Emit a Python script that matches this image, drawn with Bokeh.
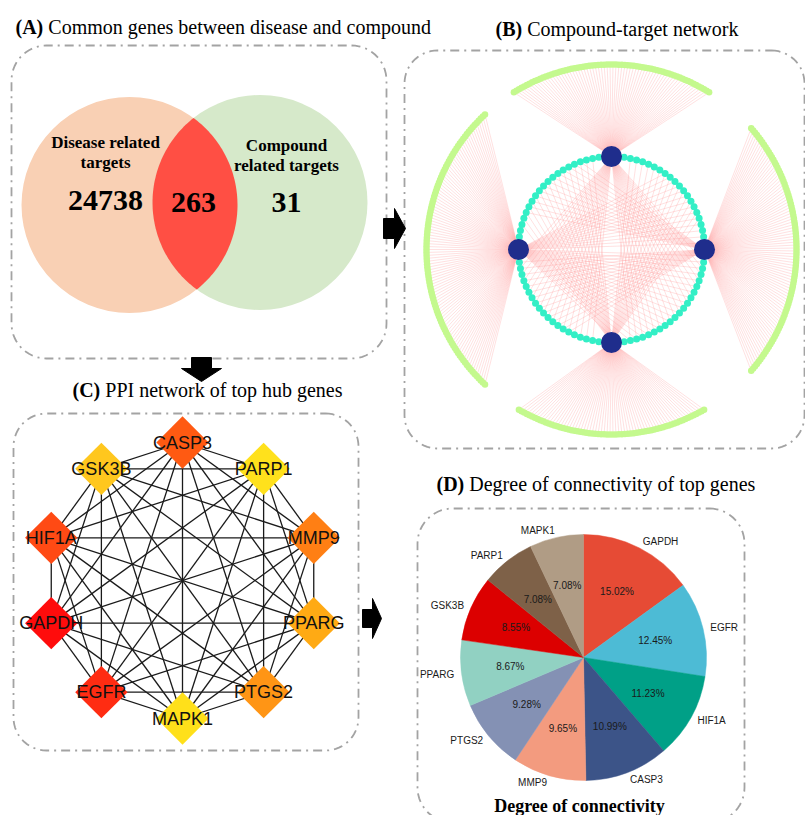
import numpy as np
from itertools import combinations
from bokeh.plotting import figure
from bokeh.models import Range1d
from bokeh.core.properties import value
from bokeh.embed import file_html
from bokeh.resources import INLINE

W, H = 805, 815

# ---------------- data ----------------
# (A) Venn
venn_set_labels = [["Disease related", "targets"], ["Compound", "related targets"]]
venn_counts = [24738, 263, 31]          # disease only, common, compound only

# (B) compound-target network
n_shared_slots = 92                      # slots on inner ring (4 used by compounds)
hub_slots = [23, 46, 69, 0]              # top, left, bottom, right compound
unique_counts = [70, 103, 66, 90]        # unique targets of each compound (outer arcs)
shared_links = [                         # ranges of inner-ring slots linked to each compound
    [(48, 66), (72, 90)],
    [(70, 91), (1, 14)],
    [(26, 42), (5, 20)],
    [(48, 62), (28, 40)],
]

# (C) PPI network of top hub genes (complete graph), clockwise from top
ppi_genes = ["CASP3", "PARP1", "MMP9", "PPARG", "PTGS2", "MAPK1", "EGFR", "GAPDH", "HIF1A", "GSK3B"]
ppi_colors = ["#FF5A12", "#FFE11C", "#FF7F14", "#FFAA14", "#FF9515", "#FFE01A",
              "#FF2C12", "#FF0C0C", "#FF4A14", "#FFC71E"]

# (D) degree of connectivity pie, clockwise from 12 o'clock
pie_genes = ["GAPDH", "EGFR", "HIF1A", "CASP3", "MMP9", "PTGS2", "PPARG", "GSK3B", "PARP1", "MAPK1"]
pie_pct = [15.02, 12.45, 11.23, 10.99, 9.65, 9.28, 8.67, 8.55, 7.08, 7.08]
pie_colors = ["#E64B35", "#4DBBD5", "#00A087", "#3C5488", "#F39B7F",
              "#8491B4", "#91D1C2", "#DC0000", "#7E6148", "#B09C85"]

titles = [("(A)", "Common genes between disease and compound"),
          ("(B)", "Compound-target network"),
          ("(C)", "PPI network of top hub genes"),
          ("(D)", "Degree of connectivity of top genes")]
pie_caption = "Degree of connectivity"

# ---------------- figure ----------------
p = figure(width=W, height=H, x_range=Range1d(0, W), y_range=Range1d(0, H),
           output_backend="svg", toolbar_location=None, min_border=0)
p.axis.visible = False
p.grid.visible = False
p.outline_line_color = None
p.background_fill_color = "white"
p.border_fill_color = "white"

SERIF = value("Liberation Serif")
SANS = value("Liberation Sans")


def Y(py):
    return H - py


def rrect(x0, y0, x1, y1, r, n=16):
    xs, ys = [], []
    corners = [(x1 - r, y0 + r, 90, 0), (x1 - r, y1 - r, 0, -90),
               (x0 + r, y1 - r, -90, -180), (x0 + r, y0 + r, 180, 90)]
    for cx, cy, a0, a1 in corners:
        for a in np.linspace(np.radians(a0), np.radians(a1), n):
            xs.append(cx + r * np.cos(a))
            ys.append(Y(cy) + r * np.sin(a))
    xs.append(xs[0]); ys.append(ys[0])
    return xs, ys


def box(x0, y0, x1, y1, r):
    xs, ys = rrect(x0, y0, x1, y1, r)
    p.line(xs, ys, line_color="#A3A3A3", line_width=1.8, line_dash="9 5 2 5")


def title(x, y, bold, rest, bold_w):
    p.text([x], [Y(y)], text=[bold], text_font=SERIF, text_font_style="bold",
           text_font_size="20px", text_align="left", text_baseline="middle", text_color="black")
    p.text([x + bold_w + 5], [Y(y)], text=[rest], text_font=SERIF,
           text_font_size="20px", text_align="left", text_baseline="middle", text_color="black")


def arrow_right(bx0, bx1, by0, by1, hy0, hy1, tip):
    xs = [bx0, bx1, bx1, tip, bx1, bx1, bx0]
    ys = [Y(by0), Y(by0), Y(hy0), Y((hy0 + hy1) / 2), Y(hy1), Y(by1), Y(by1)]
    p.patch(xs, ys, fill_color="black", line_color="black", line_width=1)


def arrow_down(bx0, bx1, by0, by1, hx0, hx1, tip):
    xs = [bx0, bx1, bx1, hx1, (hx0 + hx1) / 2, hx0, bx0]
    ys = [Y(by0), Y(by0), Y(by1), Y(by1), Y(tip), Y(by1), Y(by1)]
    p.patch(xs, ys, fill_color="black", line_color="black", line_width=1)


# ---------------- (A) Venn ----------------
title(15, 26, titles[0][0], titles[0][1], 27.8)
box(11, 45, 386, 358, 35)
c1 = (129.0, Y(204.5), 108.0)
c2 = (259.5, Y(202.0), 107.5)
p.circle([c1[0]], [c1[1]], radius=c1[2], fill_color="#F9D0B4", line_color=None)
p.circle([c2[0]], [c2[1]], radius=c2[2], fill_color="#D6E9CA", line_color=None)
# lens = intersection of both circles
d = np.hypot(c2[0] - c1[0], c2[1] - c1[1])
a = (c1[2] ** 2 - c2[2] ** 2 + d ** 2) / (2 * d)
h = np.sqrt(c1[2] ** 2 - a ** 2)
ux, uy = (c2[0] - c1[0]) / d, (c2[1] - c1[1]) / d
mx, my = c1[0] + a * ux, c1[1] + a * uy
pA = (mx - h * uy, my + h * ux)
pB = (mx + h * uy, my - h * ux)


def arc_pts(c, p_from, p_to, other):
    ang0 = np.arctan2(p_from[1] - c[1], p_from[0] - c[0])
    ang1 = np.arctan2(p_to[1] - c[1], p_to[0] - c[0])
    cands = []
    for direction in (1, -1):
        span = (ang1 - ang0) % (2 * np.pi) if direction == 1 else -((ang0 - ang1) % (2 * np.pi))
        t = np.linspace(ang0, ang0 + span, 80)
        cands.append((c[0] + c[2] * np.cos(t), c[1] + c[2] * np.sin(t)))
    return min(cands, key=lambda q: np.mean(np.hypot(q[0] - other[0], q[1] - other[1])))


xa, ya = arc_pts(c1, pA, pB, c2)
xb, yb = arc_pts(c2, pB, pA, c1)
p.patch(list(xa) + list(xb), list(ya) + list(yb), fill_color="#FF4F44", line_color=None)

for (cx, lines), cy0 in zip(zip([105, 286], venn_set_labels), [142, 145]):
    p.text([cx, cx], [Y(cy0), Y(cy0 + 20)], text=lines, text_font=SERIF, text_font_style="bold",
           text_font_size="17px", text_align="center", text_baseline="middle", text_color="black")
p.text([105, 193, 286], [Y(200), Y(202), Y(202)], text=[str(v) for v in venn_counts],
       text_font=SERIF, text_font_style="bold", text_font_size="30px",
       text_align="center", text_baseline="middle", text_color="black")

# ---------------- (B) network ----------------
title(495, 28, titles[1][0], titles[1][1], 26.7)
box(404, 50, 804, 448, 33)
bcx, bcy = 611.0, Y(249.0)
r_in, r_out = 93.0, 185.0
slot_ang = np.radians(np.arange(n_shared_slots) * 360.0 / n_shared_slots)
sx = bcx + r_in * np.cos(slot_ang)
sy = bcy + r_in * np.sin(slot_ang)
hub_x = [sx[s] for s in hub_slots]
hub_y = [sy[s] for s in hub_slots]

fan_xs, fan_ys, arc_x, arc_y = [], [], [], []
deg_per_target = 0.91
for k, s in enumerate(hub_slots):
    centre = np.degrees(slot_ang[s])
    span = unique_counts[k] * deg_per_target
    angs = np.radians(centre + np.linspace(-span / 2, span / 2, unique_counts[k]))
    ax = bcx + r_out * np.cos(angs)
    ay = bcy + r_out * np.sin(angs)
    arc_x += list(ax); arc_y += list(ay)
    for x_, y_ in zip(ax, ay):
        fan_xs.append([hub_x[k], x_]); fan_ys.append([hub_y[k], y_])
    for lo, hi in shared_links[k]:
        for t in range(lo, hi + 1):
            fan_xs.append([hub_x[k], sx[t]]); fan_ys.append([hub_y[k], sy[t]])

p.multi_line(fan_xs, fan_ys, line_color="#FF9C9C", line_alpha=0.5, line_width=0.6)
teal = [i for i in range(n_shared_slots) if i not in hub_slots]
p.scatter(sx[teal], sy[teal], size=7, fill_color="#33EFC6", line_color=None)
p.scatter(arc_x, arc_y, size=6.5, fill_color="#C4F98E", line_color=None)
p.circle(hub_x, hub_y, radius=10.5, fill_color="#1F2D8C", line_color=None)

# ---------------- (C) PPI ----------------
title(72, 389, titles[2][0], titles[2][1], 27.8)
box(13, 413, 358, 750, 33)
pcx, pcy, pr = 182.0, Y(580.0), 138.0
n = len(ppi_genes)
pang = np.radians(90 - np.arange(n) * 360.0 / n)
px_ = pcx + pr * np.cos(pang)
py_ = pcy + pr * np.sin(pang)
exs, eys = [], []
for i, j in combinations(range(n), 2):
    exs.append([px_[i], px_[j]]); eys.append([py_[i], py_[j]])
p.multi_line(exs, eys, line_color="#1a1a1a", line_width=1.3)
p.scatter(px_, py_, marker="square", size=37, angle=np.pi / 4,
          fill_color=ppi_colors, line_color=None)
p.text(px_, py_, text=ppi_genes, text_font=SANS, text_font_size="18px",
       text_align="center", text_baseline="middle", text_color="#111111")

# ---------------- (D) pie ----------------
title(436, 483, titles[3][0], titles[3][1], 27.8)
box(417, 508, 744, 822, 35)
qcx, qcy, qr = 583.0, Y(657.0), 123.0
cum = np.concatenate([[0], np.cumsum(pie_pct)])
cum = cum / cum[-1] * 100
start = 90 - cum[1:] * 3.6
end = 90 - cum[:-1] * 3.6
p.wedge(x=[qcx] * n, y=[qcy] * n, radius=qr, start_angle=list(start), end_angle=list(end),
        start_angle_units="deg", end_angle_units="deg",
        fill_color=pie_colors, line_color=pie_colors, line_width=0.5)
mid = np.radians(90 - (cum[:-1] + cum[1:]) / 2 * 3.6)
p.text(qcx + 0.6 * qr * np.cos(mid), qcy + 0.6 * qr * np.sin(mid),
       text=["%.2f%%" % v for v in pie_pct], text_font=SANS, text_font_size="10px",
       text_align="center", text_baseline="middle", text_color="#1a1a1a")
lx = qcx + 1.06 * qr * np.cos(mid)
ly = qcy + 1.06 * qr * np.sin(mid)
right = np.cos(mid) >= 0
p.text(lx[right], ly[right], text=[g for g, r in zip(pie_genes, right) if r], text_font=SANS,
       text_font_size="10px", text_align="left", text_baseline="middle", text_color="#1a1a1a")
p.text(lx[~right], ly[~right], text=[g for g, r in zip(pie_genes, right) if not r], text_font=SANS,
       text_font_size="10px", text_align="right", text_baseline="middle", text_color="#1a1a1a")
p.text([579], [Y(805)], text=[pie_caption], text_font=SERIF, text_font_style="bold",
       text_font_size="18px", text_align="center", text_baseline="middle", text_color="black")

# ---------------- arrows ----------------
arrow_right(383, 394, 218, 238, 208, 248, 405)
arrow_down(191, 211, 357, 368, 181, 221, 381)
arrow_right(362, 372, 609, 627, 598, 638, 381)

open("out.html", "w").write(file_html(p, INLINE))
